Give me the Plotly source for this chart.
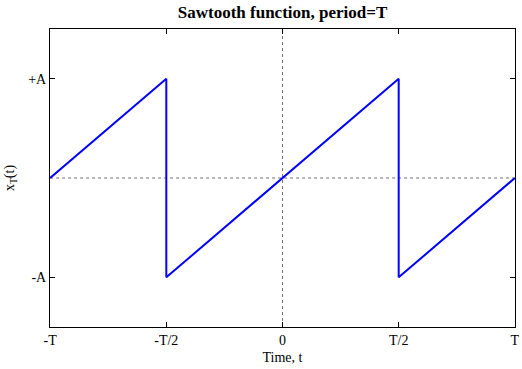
import plotly.graph_objects as go

# Sawtooth vertices (t in units of T, x in units of A)
t_vals = [-1.0, -0.5, -0.5, 0.5, 0.5, 1.0]
x_vals = [0.0, 1.0, -1.0, 1.0, -1.0, 0.0]

x_tickvals = [-1.0, -0.5, 0.0, 0.5, 1.0]
x_ticktext = ["-T", "-T/2", "0", "T/2", "T"]
y_tickvals = [-1.0, 1.0]
y_ticktext = ["-A", "+A"]

font = "Liberation Serif, Times New Roman, serif"
eps = 0.0005

fig = go.Figure()
fig.add_trace(go.Scatter(x=[0, 0], y=[-1.5, 1.5], mode="lines",
                         line=dict(color="#707070", width=1, dash="3px,3px"),
                         showlegend=False, hoverinfo="skip"))
fig.add_trace(go.Scatter(x=[-1, 1], y=[0, 0], mode="lines",
                         line=dict(color="#707070", width=1, dash="3px,3px"),
                         showlegend=False, hoverinfo="skip"))
fig.add_trace(go.Scatter(x=t_vals, y=x_vals, mode="lines",
                         line=dict(color="#0000FF", width=2),
                         showlegend=False))

fig.update_layout(
    width=522, height=369,
    margin=dict(l=50, r=7, t=29, b=42, autoexpand=False),
    paper_bgcolor="white", plot_bgcolor="white",
    font=dict(family=font, size=14, color="black"),
    title=dict(text="<b>Sawtooth function, period=T</b>", x=0.5, xref="paper",
               y=0.967, yref="container", xanchor="center", yanchor="middle",
               font=dict(family=font, size=17, color="black")),
    xaxis=dict(range=[-1 - eps, 1 + eps], tickvals=x_tickvals, ticktext=x_ticktext,
               showgrid=False, zeroline=False, showline=True, linecolor="black",
               linewidth=1, mirror="ticks", ticks="inside", ticklen=5,
               tickcolor="black", automargin=False,
               title=dict(text="Time, t", standoff=5, font=dict(size=14))),
    yaxis=dict(range=[-1.5, 1.5], tickvals=y_tickvals, ticktext=y_ticktext,
               showgrid=False, zeroline=False, showline=True, linecolor="black",
               linewidth=1, mirror="ticks", ticks="inside", ticklen=5,
               tickcolor="black", automargin=False,
               title=dict(text="x<sub>T</sub>(t)", standoff=10, font=dict(size=14))),
)

fig.write_html("out.html", config={"displayModeBar": False},
               post_script="document.body.style.margin='0px';document.body.style.padding='0px';")
